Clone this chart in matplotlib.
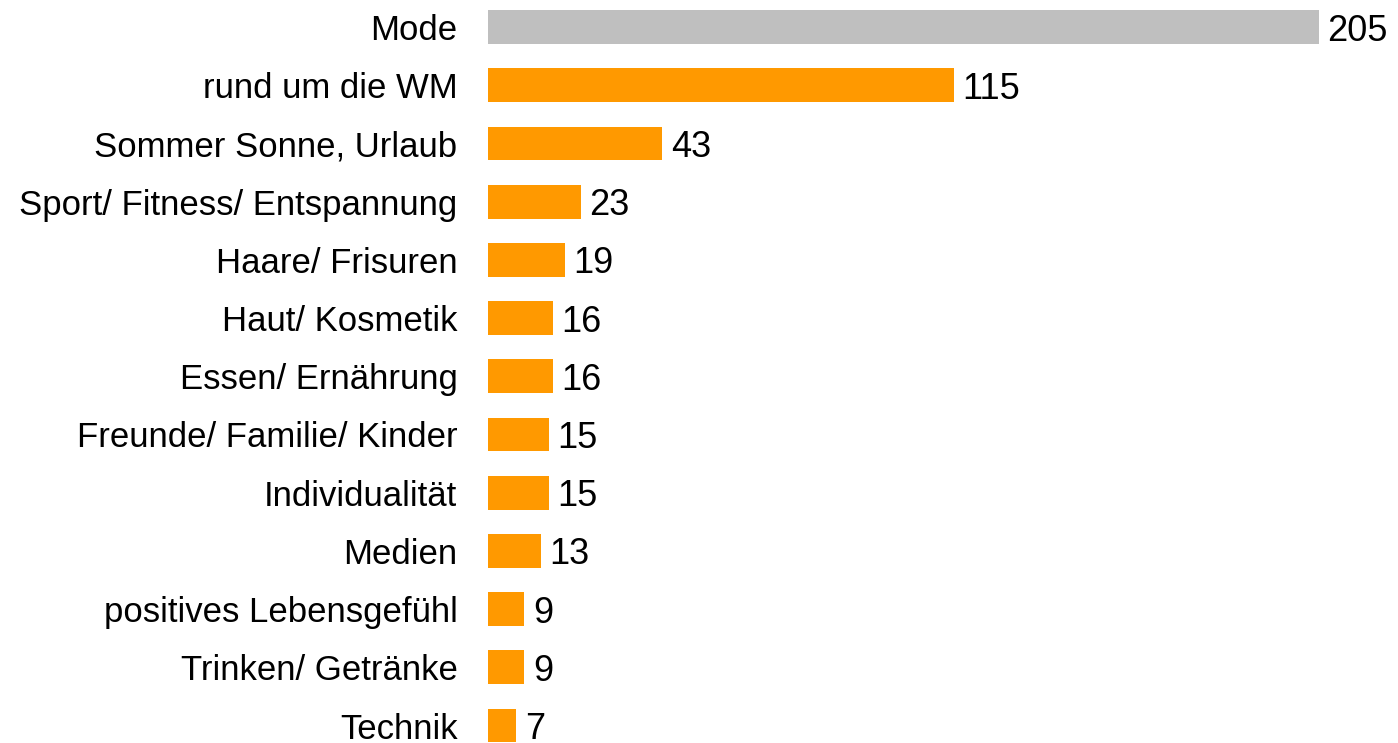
import matplotlib.pyplot as plt

# Werte aus dem Diagramm
categories = ["Mode", "rund um die WM", "Sommer Sonne, Urlaub",
              "Sport/ Fitness/ Entspannung", "Haare/ Frisuren", "Haut/ Kosmetik",
              "Essen/ Ernährung", "Freunde/ Familie/ Kinder", "Individualität",
              "Medien", "positives Lebensgefühl", "Trinken/ Getränke", "Technik"]
values = [205, 115, 43, 23, 19, 16, 16, 15, 15, 13, 9, 9, 7]
highlight = "Mode"

plt.rcParams['font.family'] = ['Liberation Sans', 'DejaVu Sans']

fig = plt.figure(figsize=(13.98, 7.43), dpi=100)
ax = fig.add_axes([488 / 1398, 0, 1 - 488 / 1398, 1])

colors = ["#BFBFBF" if c == highlight else "#FF9900" for c in categories]
ypos = list(range(len(categories)))
bars = ax.barh(ypos, values, height=0.58, color=colors)

for b, v in zip(bars, values):
    ax.annotate(str(v), (b.get_width(), b.get_y() + b.get_height() / 2),
                xytext=(6, 0), textcoords="offset points",
                va="center_baseline", ha="left", fontsize=26)

ax.set_yticks(ypos)
ax.set_yticklabels(categories, fontsize=25)
ax.tick_params(axis="y", length=0, pad=22)
ax.set_xticks([])
ax.set_xlim(0, 224.5)
ax.set_ylim(12.30, -0.464)
for s in ax.spines.values():
    s.set_visible(False)

fig.savefig("out.png", dpi=100)
